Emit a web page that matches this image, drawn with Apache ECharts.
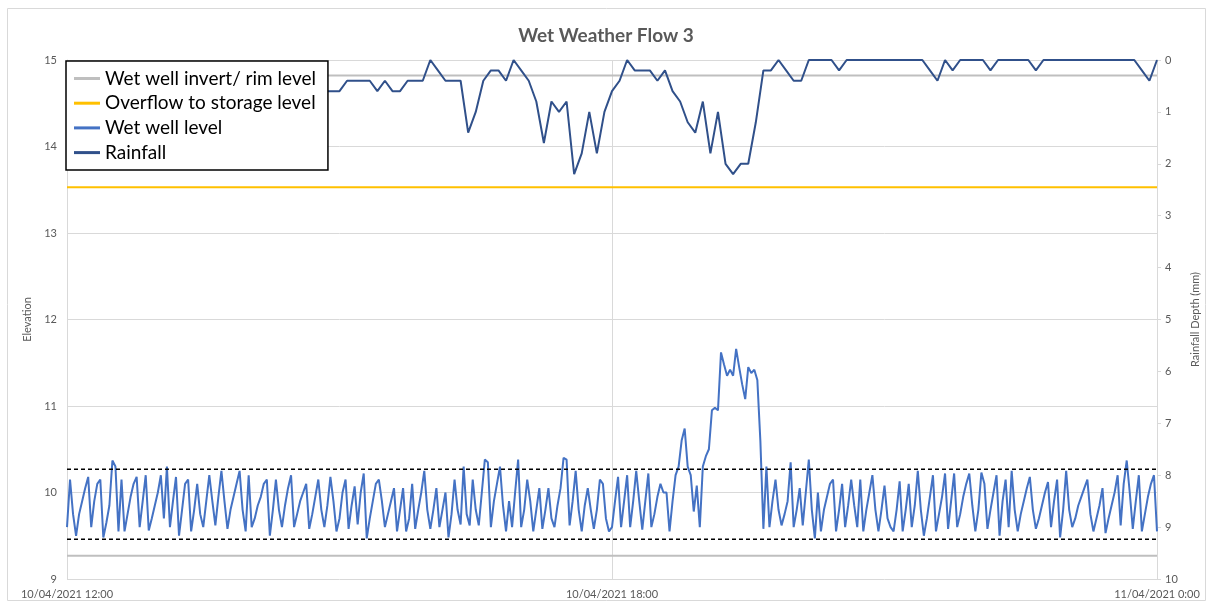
<!DOCTYPE html>
<html lang="en">
<head>
    <meta charset="UTF-8">
    <title>Wet Weather Flow 3</title>
    <script src="https://cdn.jsdelivr.net/npm/echarts/dist/echarts.min.js"></script>
    <style>
        html, body { margin: 0; padding: 0; background: #fff; }
        #chart { width: 1212px; height: 604px; }
    </style>
</head>
<body>
    <div id="chart"></div>

    <script>
        // x is minutes since 10/04/2021 12:00
        const tickLabels = ['10/04/2021 12:00', '10/04/2021 18:00', '11/04/2021 0:00'];

        // wet well level, one reading every 2 minutes
        const wellStep = 2;
        const wetWellLevel = [
            9.6,10.15,9.75,9.5,9.75,9.9,10.05,10.18,9.6,9.9,10.1,10.15,9.48,9.65,9.85,10.37,10.3,9.55,10.15,9.55,9.75,9.95,10.1,10.18,9.6,9.9,10.2,9.56,9.7,9.85,
            10.0,10.2,9.7,10.3,9.6,9.9,10.18,9.5,9.8,10.1,10.15,9.55,9.8,10.1,9.75,9.6,9.9,10.2,9.9,9.62,9.95,10.25,9.9,9.58,9.8,9.95,10.1,10.25,9.8,9.55,
            10.2,9.6,9.7,9.85,9.95,10.1,10.15,9.5,9.8,10.15,9.8,9.6,9.85,10.05,10.2,9.6,9.75,9.9,10.0,10.1,9.58,9.75,9.95,10.15,9.8,9.6,9.85,10.18,9.9,9.55,
            9.7,10.0,10.15,9.58,9.85,10.07,9.63,10.0,10.22,9.47,9.7,9.9,10.1,10.15,9.9,9.6,9.75,9.9,10.05,9.55,9.8,10.05,9.55,9.7,10.1,9.58,9.8,10.0,10.25,9.8,
            9.58,9.8,10.05,9.6,9.8,10.0,9.48,9.75,10.15,9.8,9.63,10.3,9.75,9.62,10.15,9.8,9.62,10.0,10.38,10.35,9.6,9.9,10.1,10.3,9.85,9.55,9.9,9.6,10.0,10.38,
            9.6,9.8,10.15,9.9,9.55,9.8,10.05,9.58,9.8,10.05,9.7,9.6,9.85,10.05,10.4,10.38,9.62,9.9,10.25,9.8,9.55,9.85,10.05,9.8,9.58,9.8,10.15,10.1,9.7,9.55,
            9.6,9.9,10.18,9.6,9.9,10.2,9.6,9.9,10.25,9.9,9.57,9.9,10.22,9.6,9.75,9.95,10.1,10.0,10.0,9.55,9.9,10.2,10.3,10.6,10.74,10.3,10.2,9.78,10.08,9.6,
            10.3,10.42,10.5,10.95,10.98,10.95,11.62,11.48,11.35,11.42,11.35,11.66,11.45,11.25,11.08,11.45,11.38,11.42,11.3,10.6,9.58,10.3,9.6,9.9,10.15,9.8,9.62,9.75,9.9,10.35,
            9.6,9.8,10.05,9.62,10.0,10.38,9.8,9.47,10.0,9.55,9.8,9.95,10.1,10.15,9.55,9.8,10.1,9.6,9.85,10.15,9.85,9.6,10.15,9.55,9.8,10.0,10.2,9.8,9.55,9.8,
            10.08,9.7,9.6,9.55,9.8,10.13,9.55,9.8,10.1,9.6,9.85,10.25,9.8,9.5,9.7,9.95,10.2,9.55,9.75,9.95,10.22,9.58,9.9,10.22,9.6,9.75,9.95,10.1,10.22,9.85,
            9.55,9.8,10.23,10.1,9.58,9.8,10.0,10.2,9.5,9.9,10.15,9.6,10.25,9.8,9.55,9.75,9.9,10.05,10.18,9.8,9.58,9.7,9.85,10.0,10.12,9.6,9.9,10.15,9.48,9.8,
            10.25,9.8,9.6,9.7,9.85,9.95,10.05,10.15,9.75,9.55,9.7,9.85,10.05,9.53,9.7,9.85,10.0,10.2,9.62,10.1,10.37,10.0,9.58,9.9,10.2,9.55,9.75,9.95,10.1,10.2,
            9.55
        ];

        // rainfall depth (mm), one reading every 5 minutes
        const rainStep = 5;
        const rainfall = [
            0.2,0.2,0.4,0.4,0.2,0.4,0.6,0.4,0.4,0.2,0.4,0.6,0.6,0.4,0.4,0.6,0.4,0.2,0.4,0.4,
            0.6,0.6,0.4,0.4,0.6,0.8,0.6,0.4,0.4,0.6,0.4,0.6,0.6,0.6,0.6,
            0.6,0.6,0.4,0.4,0.4,0.4,0.6,0.4,0.6,0.6,0.4,0.4,0.4,0,0.2,0.4,0.4,0.4,1.4,1.0,
            0.4,0.2,0.2,0.4,0,0.2,0.4,0.8,1.6,0.8,1.0,0.8,2.2,1.8,1.0,1.8,
            1.0,0.6,0.4,0,0.2,0.2,0.2,0.4,0.2,0.6,0.8,1.2,1.4,0.8,1.8,1.0,2.0,2.2,2.0,2.0,
            1.2,0.2,0.2,0,0.2,0.4,0.4,0,
            0,0,0,0.2,0,0,0,0,0,0,0,0,0,0,0,0.2,0.4,0,0.2,0,0,0,0,0.2,
            0,0,0,0,0,0.2,0,0,0,0,0,0,0,0,0,0,0,0,0,0.2,0.4,0
        ];

        const rimLevel = 14.82;
        const invertLevel = 9.27;
        const overflowLevel = 13.53;
        const pumpOnLevel = 10.27;
        const pumpOffLevel = 9.46;
        const xStart = 0, xEnd = 720;

        function flat(level) {
            return [[xStart, level], [xEnd, level]];
        }

        var chart = echarts.init(document.getElementById('chart'));
        var font = 'Lato, "Liberation Sans", sans-serif';
        var grey = '#595959';

        var option = {
            animation: false,
            textStyle: { fontFamily: font },
            title: {
                text: 'Wet Weather Flow 3',
                left: 'center',
                top: 21,
                textStyle: { fontFamily: font, fontSize: 19, fontWeight: 'bold', color: grey }
            },
            graphic: [{
                type: 'rect',
                shape: { x: 7.5, y: 8.5, width: 1198, height: 592 },
                style: { fill: null, stroke: '#d9d9d9', lineWidth: 1 },
                silent: true
            }],
            legend: {
                orient: 'vertical',
                left: 66,
                top: 61,
                padding: [8, 12, 8, 8],
                itemGap: 5.7,
                itemWidth: 26,
                itemHeight: 3,
                itemTextGap: 8,
                icon: 'rect',
                backgroundColor: '#fff',
                borderColor: '#000',
                borderWidth: 1.5,
                z: 10,
                textStyle: { fontFamily: font, fontSize: 19, color: '#000' },
                data: ['Wet well invert/ rim level', 'Overflow to storage level', 'Wet well level', 'Rainfall']
            },
            grid: { left: 67, right: 55, top: 60, bottom: 25 },
            xAxis: {
                type: 'value',
                min: xStart,
                max: xEnd,
                interval: 360,
                axisLine: { lineStyle: { color: '#d9d9d9', width: 1 } },
                axisTick: { show: false },
                splitLine: { show: true, lineStyle: { color: '#d9d9d9' } },
                axisLabel: {
                    color: grey, fontSize: 11, margin: 10,
                    formatter: function (v) { return tickLabels[Math.round(v / 360)]; }
                }
            },
            yAxis: [{
                type: 'value',
                min: 9,
                max: 15,
                interval: 1,
                name: 'Elevation',
                nameLocation: 'middle',
                nameGap: 31,
                nameTextStyle: { color: grey, fontSize: 11 },
                axisLine: { show: true, lineStyle: { color: '#d9d9d9' } },
                axisTick: { show: false },
                axisLabel: { color: grey, fontSize: 11, margin: 10 },
                splitLine: { lineStyle: { color: '#d9d9d9' } }
            }, {
                type: 'value',
                min: 0,
                max: 10,
                interval: 1,
                inverse: true,
                position: 'right',
                name: 'Rainfall Depth (mm)',
                nameLocation: 'middle',
                nameGap: 33,
                nameRotate: 90,
                nameTextStyle: { color: grey, fontSize: 11 },
                axisLine: { show: true, lineStyle: { color: '#d9d9d9' } },
                axisTick: { show: true, length: 4, lineStyle: { color: '#d9d9d9' } },
                axisLabel: { color: grey, fontSize: 11, margin: 8 },
                splitLine: { show: false }
            }],
            series: [{
                name: 'Wet well invert/ rim level',
                type: 'line',
                data: flat(rimLevel),
                showSymbol: false,
                color: '#bfbfbf',
                lineStyle: { width: 2 }
            }, {
                name: 'Wet well invert/ rim level',
                type: 'line',
                data: flat(invertLevel),
                showSymbol: false,
                color: '#bfbfbf',
                lineStyle: { width: 2 }
            }, {
                name: 'Overflow to storage level',
                type: 'line',
                data: flat(overflowLevel),
                showSymbol: false,
                color: '#ffc000',
                lineStyle: { width: 2 }
            }, {
                name: 'Wet well level',
                type: 'line',
                data: wetWellLevel.map(function (v, i) { return [i * wellStep, v]; }),
                showSymbol: false,
                color: '#4472c4',
                lineStyle: { width: 2 }
            }, {
                name: 'Rainfall',
                type: 'line',
                yAxisIndex: 1,
                data: rainfall.map(function (v, i) { return [i * rainStep, v]; }),
                showSymbol: false,
                color: '#30508a',
                lineStyle: { width: 2 }
            }, {
                name: 'pump on',
                type: 'line',
                data: flat(pumpOnLevel),
                showSymbol: false,
                color: '#000',
                lineStyle: { width: 1.5, type: [4, 3] }
            }, {
                name: 'pump off',
                type: 'line',
                data: flat(pumpOffLevel),
                showSymbol: false,
                color: '#000',
                lineStyle: { width: 1.5, type: [4, 3] }
            }]
        };
        chart.setOption(option);
    </script>
</body>
</html>
